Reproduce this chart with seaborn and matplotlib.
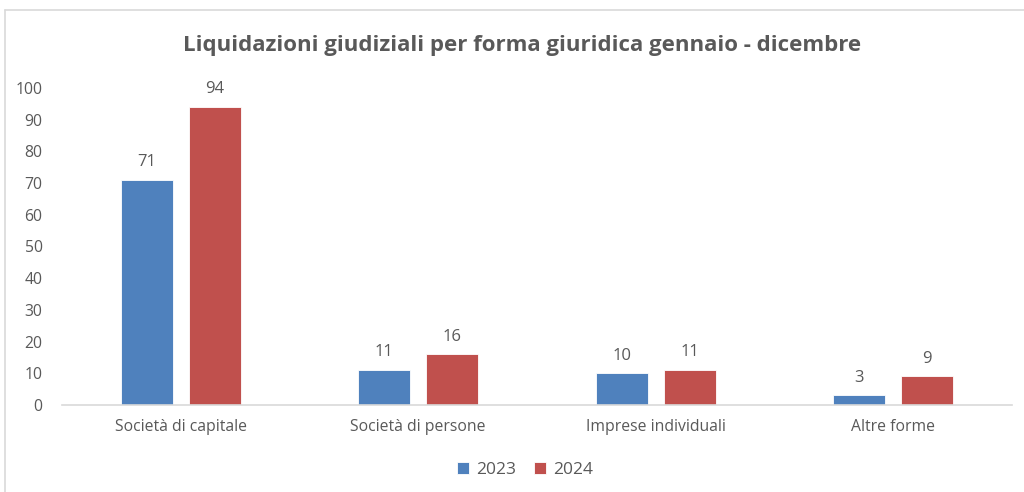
import pandas as pd
import matplotlib.pyplot as plt
import seaborn as sns
from matplotlib.lines import Line2D

# Data
categorie = ["Società di capitale", "Società di persone", "Imprese individuali", "Altre forme"]
valori_2023 = [71, 11, 10, 3]
valori_2024 = [94, 16, 11, 9]
anni = ["2023", "2024"]

df = pd.DataFrame({
    "Forma": categorie * 2,
    "Anno": [anni[0]] * len(categorie) + [anni[1]] * len(categorie),
    "Valore": valori_2023 + valori_2024,
})

sns.set_style("white")
plt.rcParams['font.family'] = ['Open Sans', 'DejaVu Sans']
text_col = "#595959"

fig = plt.figure(figsize=(10.24, 4.92), dpi=100)
ax = fig.add_axes([62 / 1024, 1 - 405 / 492, 950 / 1024, 317 / 492])

sns.barplot(data=df, x="Forma", y="Valore", hue="Anno",
            palette=["#4F81BD", "#C0504D"], saturation=1, width=0.57, gap=0.23,
            edgecolor="white", linewidth=0.6, ax=ax, legend=True)

for cont in ax.containers:
    ax.bar_label(cont, padding=7, fontsize=12, color=text_col)

ax.set_ylim(0, 100)
ax.set_yticks(range(0, 101, 10))
ax.set_xlim(-0.5, 3.5)
ax.set_xlabel("")
ax.set_ylabel("")
for s in ["top", "right", "left"]:
    ax.spines[s].set_visible(False)
ax.spines["bottom"].set_color("#D9D9D9")
ax.spines["bottom"].set_linewidth(1.2)
ax.tick_params(axis="both", length=0, labelsize=11.3, colors=text_col)
ax.tick_params(axis="x", pad=10)
ax.tick_params(axis="y", pad=14)

fig.text(522 / 1024, 1 - 45 / 492, "Liquidazioni giudiziali per forma giuridica gennaio - dicembre",
         ha="center", va="center", fontsize=16, fontweight="bold", color=text_col)

handles, labels = ax.get_legend_handles_labels()
ax.legend_.remove()
fig.legend(handles, labels, loc="center", bbox_to_anchor=(525 / 1024, 1 - 470 / 492),
           ncol=2, frameon=False, fontsize=12.5, labelcolor=text_col,
           handlelength=0.7, handleheight=0.7, handletextpad=0.4, columnspacing=1.0)

# light chart frame (top and left edges visible in the reference)
fig.add_artist(Line2D([5 / 1024, 1], [1 - 10 / 492, 1 - 10 / 492], color="#D9D9D9", lw=1.2))
fig.add_artist(Line2D([5 / 1024, 5 / 1024], [0, 1 - 10 / 492], color="#D9D9D9", lw=1.2))

fig.savefig("out.png", dpi=100)
